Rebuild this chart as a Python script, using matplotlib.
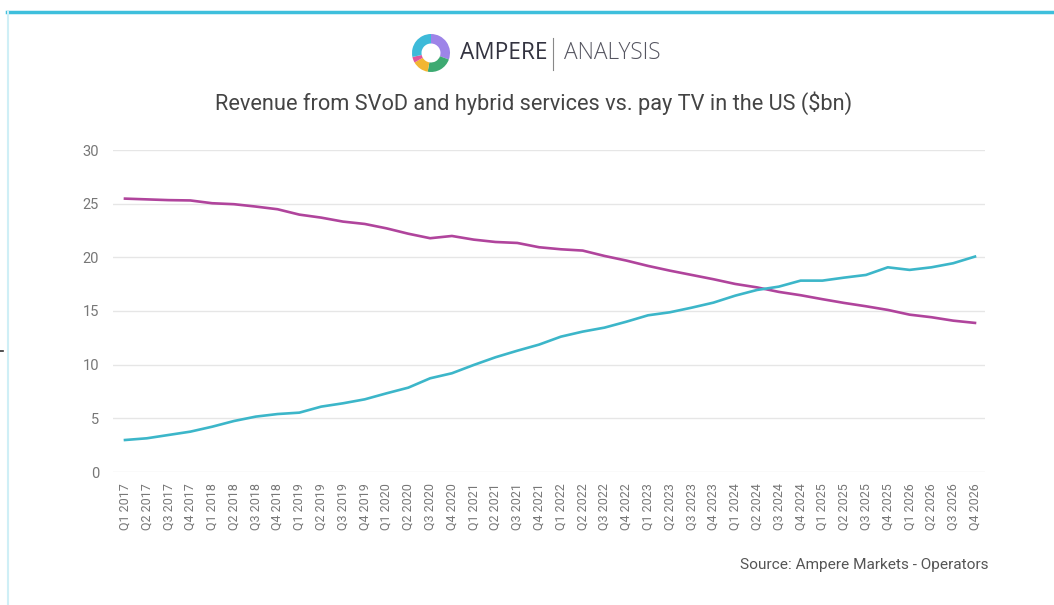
import numpy as np
import matplotlib
matplotlib.use("Agg")
from matplotlib import pyplot as plt
from matplotlib.patches import Wedge
from matplotlib.lines import Line2D

# Quarter labels, Q1 2017 .. Q4 2026
years = list(range(2017, 2027))
quarters = [f"Q{q} {y}" for y in years for q in range(1, 5)]

# Pay TV revenue ($bn)
pay_tv = [25.47, 25.40, 25.33, 25.30, 25.04, 24.95, 24.73, 24.48, 23.98, 23.70,
          23.33, 23.11, 22.70, 22.20, 21.78, 21.99, 21.65, 21.43, 21.34, 20.94,
          20.75, 20.63, 20.13, 19.70, 19.20, 18.76, 18.36, 17.96, 17.52, 17.20,
          16.78, 16.47, 16.10, 15.75, 15.44, 15.10, 14.66, 14.42, 14.10, 13.89]

# SVoD and hybrid services revenue ($bn)
svod = [2.98, 3.14, 3.45, 3.76, 4.22, 4.75, 5.16, 5.40, 5.53, 6.09,
        6.40, 6.77, 7.33, 7.86, 8.73, 9.20, 9.97, 10.69, 11.30, 11.87,
        12.61, 13.08, 13.45, 14.00, 14.60, 14.88, 15.31, 15.78, 16.43, 16.96,
        17.27, 17.83, 17.83, 18.11, 18.36, 19.07, 18.83, 19.07, 19.45, 20.07]

y_ticks = [0, 5, 10, 15, 20, 25, 30]

MAGENTA = "#B0449C"
CYAN = "#3CB6C9"

W, H = 1054, 605
fig = plt.figure(figsize=(W / 100, H / 100), dpi=100)
fig.patch.set_facecolor("white")

# frame lines (top cyan bar, faint left edge)
fig.add_artist(Line2D([7 / W, 1], [1 - 11.5 / H] * 2, color="#3EBFDC", lw=2.5))
fig.add_artist(Line2D([7.5 / W] * 2, [0, 1 - 12 / H], color="#CFEFF6", lw=1.5))
fig.add_artist(Line2D([0, 3 / W], [1 - 351 / H] * 2, color="#333333", lw=1.2))

ax = fig.add_axes([113 / W, 1 - 472 / H, (985 - 113) / W, (472 - 150) / H])
x = np.arange(len(quarters))
ax.plot(x, pay_tv, color=MAGENTA, lw=1.9, solid_joinstyle="round")
ax.plot(x, svod, color=CYAN, lw=1.9, solid_joinstyle="round")

ax.set_xlim(-0.55, len(quarters) - 1 + 0.46)
ax.set_ylim(0, 30)
ax.set_yticks(y_ticks)
ax.set_yticklabels([str(v) for v in y_ticks], fontsize=10.5, color="#777777",
                   family="Roboto")
ax.set_xticks(x)
ax.set_xticklabels(quarters, rotation=90, fontsize=9, color="#777777",
                   family="Roboto")
ax.tick_params(axis="both", length=0)
ax.tick_params(axis="y", pad=10)
ax.tick_params(axis="x", pad=8)
ax.grid(axis="y", color="#E6E6E6", lw=1)
ax.set_axisbelow(True)
for s in ax.spines.values():
    s.set_visible(False)

# title
fig.text(534 / W, 1 - 103 / H,
         "Revenue from SVoD and hybrid services vs. pay TV in the US (\\$bn)",
         ha="center", va="center", fontsize=15.7, color="#444444", family="Roboto")

# logo
lax = fig.add_axes([(431 - 22) / W, 1 - (53 + 22) / H, 44 / W, 44 / H])
lax.set_xlim(-22, 22)
lax.set_ylim(-22, 22)
lax.set_aspect("equal")
lax.axis("off")
segments = [(-20, 90, "#9D84E8"), (-100, -20, "#3DAA72"), (-150, -100, "#F2B632"),
            (-168, -150, "#E0569C"), (90, 192, "#3DBAD9")]
for a0, a1, c in segments:
    lax.add_patch(Wedge((0, 0), 19, a0, a1, width=9.5, color=c, lw=0))

fig.text(460 / W, 1 - 53 / H, "AMPERE", ha="left", va="center", fontsize=16.3,
         color="#333340", family="Open Sans")
fig.add_artist(Line2D([553 / W] * 2, [1 - 38 / H, 1 - 70 / H], color="#888888", lw=0.8))
fig.text(564 / W, 1 - 53 / H, "ANALYSIS", ha="left", va="center", fontsize=16.3,
         color="#555560", family="Open Sans", fontweight="light")

# source
fig.text(989 / W, 1 - 565 / H, "Source: Ampere Markets - Operators", ha="right",
         va="center", fontsize=11.1, color="#555555", family="Roboto")

fig.savefig("out.png", dpi=100)
